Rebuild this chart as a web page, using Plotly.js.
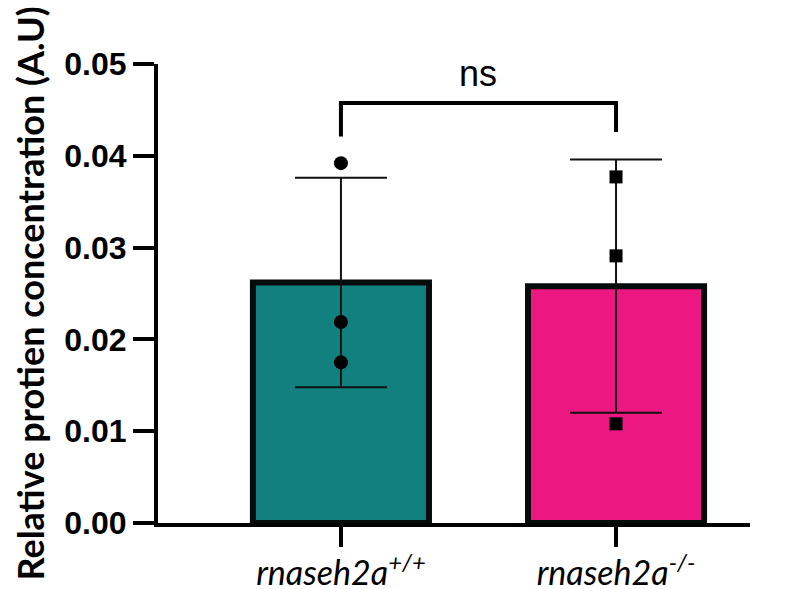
<!DOCTYPE html>
<html>
<head>
<meta charset="utf-8">
<script src="https://cdn.plot.ly/plotly-3.0.1.min.js"></script>
<style>html,body{margin:0;padding:0;background:#fff;}</style>
</head>
<body>
<div id="chart" style="width:794px;height:589px;"></div>
<script>
// ---- data ----
const categories = ['rnaseh2a+/+', 'rnaseh2a-/-'];
const tickLabels = ['<i>rnaseh2a</i><sup><i>+/+</i></sup>', '<i>rnaseh2a</i><sup><i>-/-</i></sup>'];
const means = [0.0262, 0.0258];
const sds = [0.0114, 0.0138];
const wtPoints = [0.0392, 0.0219, 0.0175];
const koPoints = [0.0377, 0.0291, 0.0108];
const barColors = ['#138080', '#EC1780'];
const yTicks = [0, 0.01, 0.02, 0.03, 0.04, 0.05];
const bracketY = [0.0421, 0.04575, 0.04575, 0.0426];
const sigLabel = 'ns';

const bars = {
  type: 'bar',
  x: categories,
  y: means,
  width: 0.64,
  marker: {color: barColors, line: {color: '#050a0a', width: 6}},
  error_y: {type: 'data', array: sds, visible: true, color: '#111', thickness: 2, width: 46},
  hoverinfo: 'skip'
};
const wt = {
  type: 'scatter', mode: 'markers',
  x: wtPoints.map(() => categories[0]), y: wtPoints,
  marker: {symbol: 'circle', size: 14, color: '#000'},
  cliponaxis: false
};
const ko = {
  type: 'scatter', mode: 'markers',
  x: koPoints.map(() => categories[1]), y: koPoints,
  marker: {symbol: 'square', size: 13, color: '#000'},
  cliponaxis: false
};
const bracket = {
  type: 'scatter', mode: 'lines',
  x: [categories[0], categories[0], categories[1], categories[1]],
  y: bracketY,
  line: {color: '#000', width: 4},
  cliponaxis: false
};

const layout = {
  width: 794, height: 589,
  margin: {l: 158, r: 44, t: 64, b: 66},
  paper_bgcolor: '#fff', plot_bgcolor: '#fff',
  showlegend: false,
  xaxis: {
    type: 'category', range: [-0.665, 1.487],
    tickvals: categories, ticktext: tickLabels,
    showline: true, linecolor: '#000', linewidth: 4,
    ticks: 'outside', ticklen: 20, tickwidth: 4, tickcolor: '#000',
    ticklabelstandoff: -3,
    tickfont: {family: 'Lato, "Open Sans", sans-serif', size: 34, color: '#000'},
    showgrid: false, zeroline: false
  },
  yaxis: {
    range: [0, 0.05], tickvals: yTicks, tickformat: '.2f',
    showline: true, linecolor: '#000', linewidth: 4,
    ticks: 'outside', ticklen: 21, tickwidth: 4, tickcolor: '#000',
    tickfont: {family: '"Liberation Sans", Arial, sans-serif', size: 32, color: '#000', weight: 'bold'},
    showgrid: false, zeroline: false,
    title: {text: 'Relative protien concentration (A.U)', standoff: 10,
            font: {family: 'Lato, "Open Sans", sans-serif', size: 36, color: '#000', weight: 'bold'}}
  },
  annotations: [{
    x: 0.5, y: 0.0490, xref: 'x', yref: 'y', text: sigLabel, showarrow: false,
    font: {family: '"Liberation Sans", Arial, sans-serif', size: 36, color: '#000'},
    xanchor: 'center', yanchor: 'middle'
  }]
};

Plotly.newPlot('chart', [bars, wt, ko, bracket], layout, {displayModeBar: false, staticPlot: true});
</script>
</body>
</html>
